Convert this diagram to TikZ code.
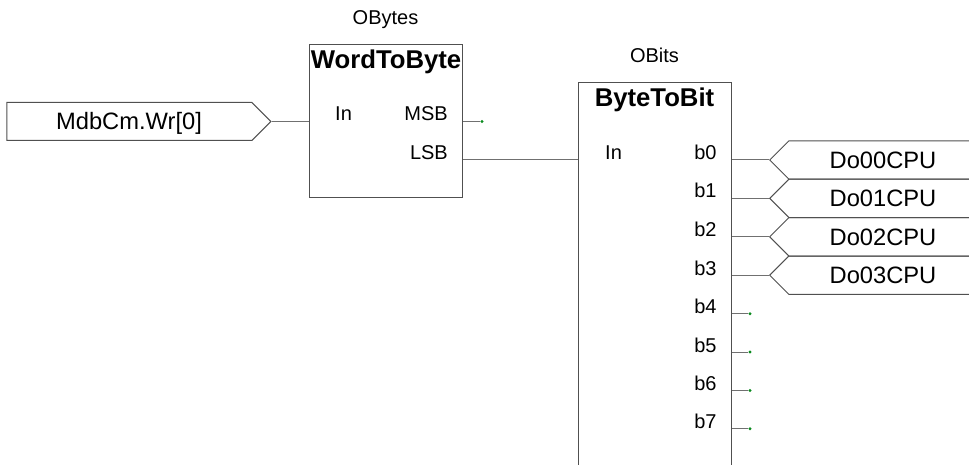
\documentclass[tikz,border=0pt]{standalone}
\usepackage{fontspec}
\setmainfont{Liberation Sans}
\usetikzlibrary{shapes.symbols}
\definecolor{boxline}{HTML}{505050}
\definecolor{wireline}{HTML}{707070}
\definecolor{dotgreen}{HTML}{0A8A1E}
\tikzset{
  fblock/.style={draw=boxline,line width=1pt,fill=white,inner sep=0pt,minimum width=153pt},
  sigin/.style={signal,signal to=east,signal from=nowhere,signal pointer angle=90,draw=boxline,line width=1pt,inner sep=0pt,minimum height=38pt,minimum width=264pt},
  sigout/.style={signal,signal to=west,signal from=nowhere,signal pointer angle=90,draw=boxline,line width=1pt,inner sep=0pt,minimum height=38.4pt,minimum width=230pt},
  wire/.style={draw=wireline,line width=1pt},
  big/.style={font=\fontsize{23.7}{26}\selectfont,anchor=base,inner sep=0pt},
  small/.style={font=\fontsize{20}{24}\selectfont,inner sep=0pt},
  pinl/.style={small,anchor=base west},
  pinr/.style={small,anchor=base east},
  title/.style={font=\bfseries\fontsize{25.7}{28}\selectfont,anchor=base,inner sep=0pt},
  opendot/.style={circle,fill=dotgreen,inner sep=0pt,minimum size=3.2pt},
}
\begin{document}
\begin{tikzpicture}[x=1pt,y=-1pt]
\useasboundingbox (0,0) rectangle (969,465);
\clip (0,0) rectangle (969,465);
% blocks
\node[fblock,minimum height=153pt] (wtb) at (386,121) {};
\node[fblock,minimum height=480pt] (btb) at (654.5,323) {};
\node[small,anchor=base] (wtbname) at (385.5,25) {OBytes};
\node[small,anchor=base] (btbname) at (654.5,62.7) {OBits};
\node[title] (wtbtitle) at (386,68.3) {WordToByte};
\node[title] (btbtitle) at (654.5,107) {ByteToBit};
% input
\node[sigin,anchor=east] (src) at (271.5,121.5) {};
\node[big] (srctext) at (129,130) {MdbCm.Wr[0]};
% block pins
\node[pinl] (wtbin) at (335,120.7) {In};
\node[pinr] (wtbmsb) at (448,120.7) {MSB};
\node[pinr] (wtblsb) at (448,159.7) {LSB};
\node[pinl] (btbin) at (605,160) {In};
\foreach \n/\y in {0/160,1/198,2/236.5,3/275,4/313.3,5/352,6/390,7/428}
  \node[pinr] (b\n) at (716.7,\y) {b\n};
% outputs
\node[sigout,anchor=west] (do0) at (769,160) {};
\node[sigout,anchor=west] (do1) at (769,198.4) {};
\node[sigout,anchor=west] (do2) at (769,236.8) {};
\node[sigout,anchor=west] (do3) at (769,275.2) {};
\node[big] (do0t) at (883,168.3) {Do00CPU};
\node[big] (do1t) at (883,207) {Do01CPU};
\node[big] (do2t) at (883,245) {Do02CPU};
\node[big] (do3t) at (883,283.3) {Do03CPU};
% open pin ends
\node[opendot] (msbend) at (482,121.5) {};
\node[opendot] (b4end) at (750,313.7) {};
\node[opendot] (b5end) at (750,352) {};
\node[opendot] (b6end) at (750,390.5) {};
\node[opendot] (b7end) at (750,428.7) {};
% connectors
\draw[wire] (src.east) -- (src.east -| wtb.west);
\draw[wire] (wtb.east |- msbend) -- (msbend);
\coordinate (lsby) at (0,160);
\draw[wire] (wtb.east |- lsby) -- (btb.west |- lsby);
\foreach \k in {0,1,2,3}
  \draw[wire] (btb.east |- do\k.west) -- (do\k.west);
\foreach \k in {4,5,6,7}
  \draw[wire] (btb.east |- b\k end) -- (b\k end);
\end{tikzpicture}
\end{document}
